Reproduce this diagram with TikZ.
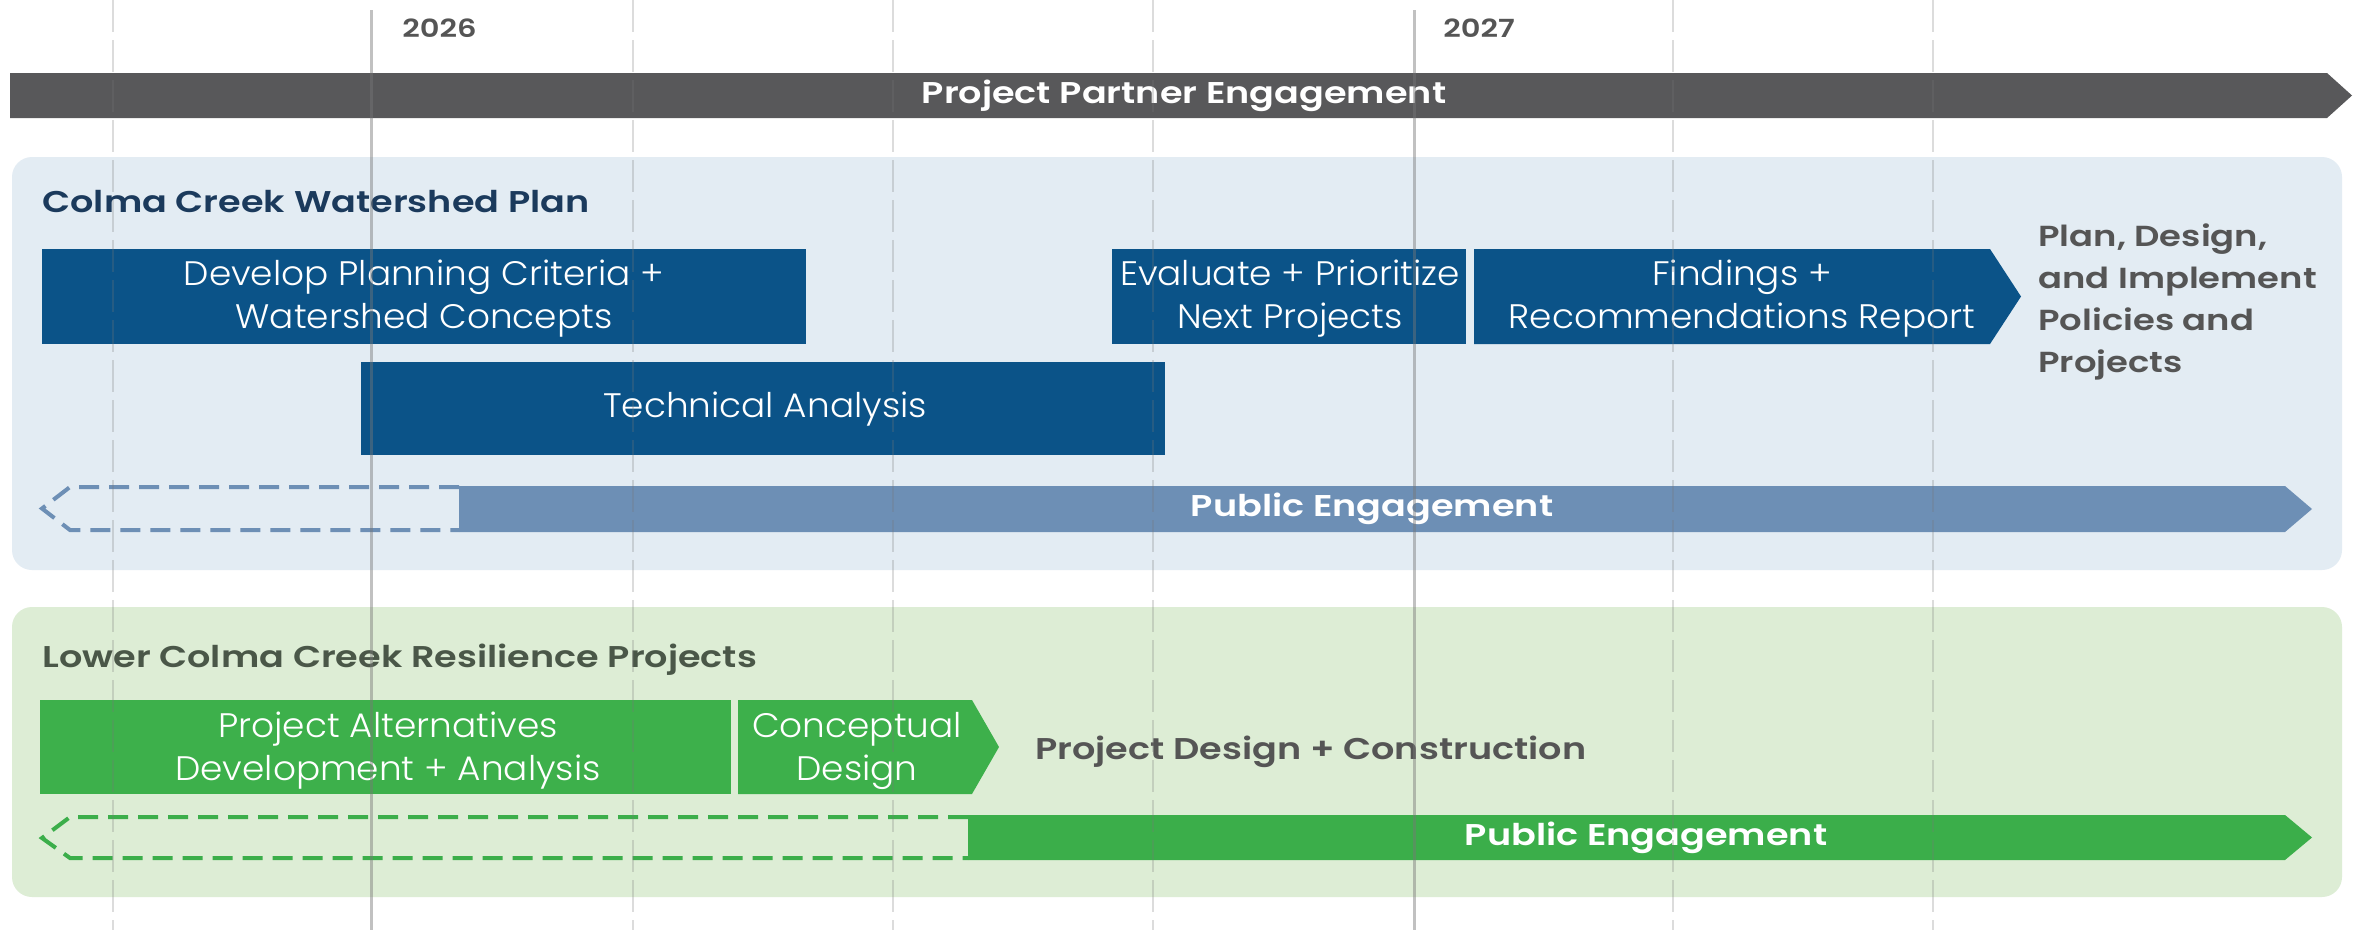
\documentclass[tikz,border=0pt]{standalone}
\usepackage{fontspec}
\setmainfont{Poppins}
\newfontfamily\plight{Poppins Light}[FakeStretch=1.055]
\newfontfamily\psemi{Poppins SemiBold}[FakeStretch=1.22]
\definecolor{darkbar}{HTML}{58585A}
\definecolor{bluepanel}{HTML}{E3ECF3}
\definecolor{greenpanel}{HTML}{DDEDD5}
\definecolor{navybox}{HTML}{0B5388}
\definecolor{pubblue}{HTML}{6D8FB5}
\definecolor{greenbox}{HTML}{3DB04B}
\definecolor{pubgreen}{HTML}{3BAE4A}
\definecolor{titlenavy}{HTML}{1B3A5C}
\definecolor{titlegreen}{HTML}{4A5748}
\definecolor{graytext}{HTML}{555555}
\definecolor{gridgray}{HTML}{777777}
\tikzset{
  boxtext/.style={text=white, align=center, inner sep=0pt, font=\plight\fontsize{17}{21.5}\selectfont},
  semitext/.style={inner sep=0pt, font=\psemi\fontsize{15}{21}\selectfont},
  bartext/.style={text=white, inner sep=0pt, font=\psemi\fontsize{15}{18}\selectfont},
  yeartext/.style={text=graytext, inner sep=0pt, anchor=west, font=\psemi\fontsize{12.5}{16}\selectfont},
  gridline/.style={draw=gridgray, opacity=0.25, line width=1pt, dash pattern=on 16pt off 4pt},
  yearline/.style={draw=gridgray, opacity=0.45, line width=1.5pt},
  dashout/.style={line width=2pt, dash pattern=on 10pt off 5pt}
}
\begin{document}
\begin{tikzpicture}[x=0.5pt,y=-0.5pt]
\useasboundingbox (0,0) rectangle (2361,938);
\fill[white] (0,0) rectangle (2361,938);

% panels
\fill[bluepanel, rounded corners=10pt] (12,157) rectangle (2342,570);
\fill[greenpanel, rounded corners=10pt] (12,607) rectangle (2342,897);

% top bar
\fill[darkbar] (10,73) -- (2327,73) -- (2352,95.5) -- (2327,118) -- (10,118) -- cycle;
\node[bartext] (ppe) at (1184,95.5) {Project Partner Engagement};

% years
\node[yeartext] (y2026) at (402,28) {2026};
\node[yeartext] (y2027) at (1443,28) {2027};

% section titles
\node[semitext, text=titlenavy, anchor=west] (t1) at (42,202) {Colma Creek Watershed Plan};
\node[semitext, text=titlegreen, anchor=west] (t2) at (42,660) {Lower Colma Creek Resilience Projects};

% blue boxes
\fill[navybox] (42,249) rectangle (806,344);
\node[boxtext] (dev) at (424,299) {Develop Planning Criteria +\\Watershed Concepts};
\fill[navybox] (361,362) rectangle (1165,455);
\node[boxtext] (tech) at (765,409.5) {Technical Analysis};
\fill[navybox] (1112,249) rectangle (1466,344);
\node[boxtext] (eval) at (1290,299) {Evaluate + Prioritize\\Next Projects};
\fill[navybox] (1474,249) -- (1990,249) -- (2021,296.5) -- (1990,344) -- (1474,344) -- cycle;
\node[boxtext] (find) at (1742,299) {Findings +\\Recommendations Report};
\node[semitext, text=graytext, anchor=west, align=left, font=\psemi\fontsize{14.5}{21}\selectfont] (plan) at (2038,302) {Plan, Design,\\and Implement\\Policies and\\Projects};

% blue public engagement
\draw[pubblue, dashout] (459,487) -- (70,487) -- (42,508.5) -- (70,530) -- (459,530);
\fill[pubblue] (459,486) -- (2285,486) -- (2312,509) -- (2285,532) -- (459,532) -- cycle;
\node[bartext] (pub1) at (1372,509) {Public Engagement};

% green boxes
\fill[greenbox] (40,700) rectangle (731,794);
\node[boxtext] (alt) at (388,751) {Project Alternatives\\Development + Analysis};
\fill[greenbox] (738,700) -- (972,700) -- (999,747) -- (972,794) -- (738,794) -- cycle;
\node[boxtext] (concept) at (857,751) {Conceptual\\Design};
\node[semitext, text=graytext, anchor=west] (pdc) at (1035,752) {Project Design + Construction};

% green public engagement
\draw[pubgreen, dashout] (968,817) -- (70,817) -- (42,838) -- (70,858) -- (968,858);
\fill[pubgreen] (968,815) -- (2285,815) -- (2312,837.5) -- (2285,860) -- (968,860) -- cycle;
\node[bartext] (pub2) at (1646,837.5) {Public Engagement};

% grid lines on top
\foreach \gx in {113,633,893,1153,1673,1933}{
  \draw[gridline] (\gx,0) -- (\gx,930);
}
\draw[yearline] (371,10) -- (371,930);
\draw[yearline] (1414,10) -- (1414,930);
\end{tikzpicture}
\end{document}
